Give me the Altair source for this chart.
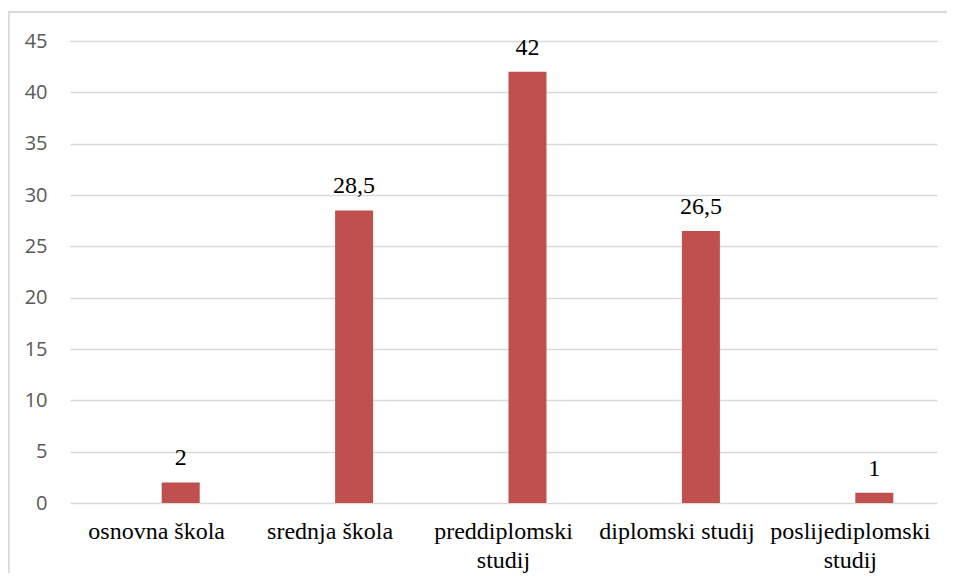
import altair as alt
import pandas as pd

categories = ["osnovna škola", "srednja škola", "preddiplomski studij",
              "diplomski studij", "poslijediplomski studij"]
values = [2, 28.5, 42, 26.5, 1]
y_ticks = [0, 5, 10, 15, 20, 25, 30, 35, 40, 45]

SERIF = "Liberation Serif, 'Times New Roman', serif"

df = pd.DataFrame({"kategorija": categories, "vrijednost": values})

base = alt.Chart(df).encode(
    x=alt.X("kategorija:N", sort=categories, title=None,
            axis=alt.Axis(labelAngle=0, domain=False, ticks=False, tickSize=0,
                          labelFont=SERIF, labelFontSize=24,
                          labelColor="#000000", labelBaseline="alphabetic",
                          labelPadding=35, labelLineHeight=29, labelLimit=300,
                          labelExpr="length(datum.label) > 17 ? split(datum.label, ' ') : datum.label")),
    y=alt.Y("vrijednost:Q", title=None,
            scale=alt.Scale(domain=[0, 45], nice=False),
            axis=alt.Axis(values=y_ticks, domain=False, ticks=False, tickSize=0,
                          labelFont="Open Sans", labelFontSize=20,
                          labelColor="#595959", labelPadding=23,
                          gridColor="#d9d9d9", gridWidth=1.3)),
)

bars = base.mark_bar(color="#C0504D", size=38, xOffset=24)

labels = base.transform_calculate(
    lbl="replace(format(datum.vrijednost, ''), '.', ',')"
).mark_text(font=SERIF, fontSize=24, color="#000000",
            baseline="alphabetic", dy=-17, xOffset=24).encode(text="lbl:N")

frame_top = alt.Chart(df).mark_rule(color="#d9d9d9", strokeWidth=1.5).encode(
    x=alt.value(-61.5), x2=alt.value(877), y=alt.value(-29))
frame_left = alt.Chart(df).mark_rule(color="#d9d9d9", strokeWidth=1.5).encode(
    x=alt.value(-61.5), y=alt.value(-29), y2=alt.value(540))

chart = alt.layer(bars, labels, frame_top, frame_left).properties(
    width=867, height=462,
    autosize=alt.AutoSizeParams(type="none"),
    padding={"left": 62, "top": 33, "right": 10, "bottom": 70},
).configure_view(stroke=None)

chart.save("out.html", embed_options={"renderer": "svg", "actions": False})
